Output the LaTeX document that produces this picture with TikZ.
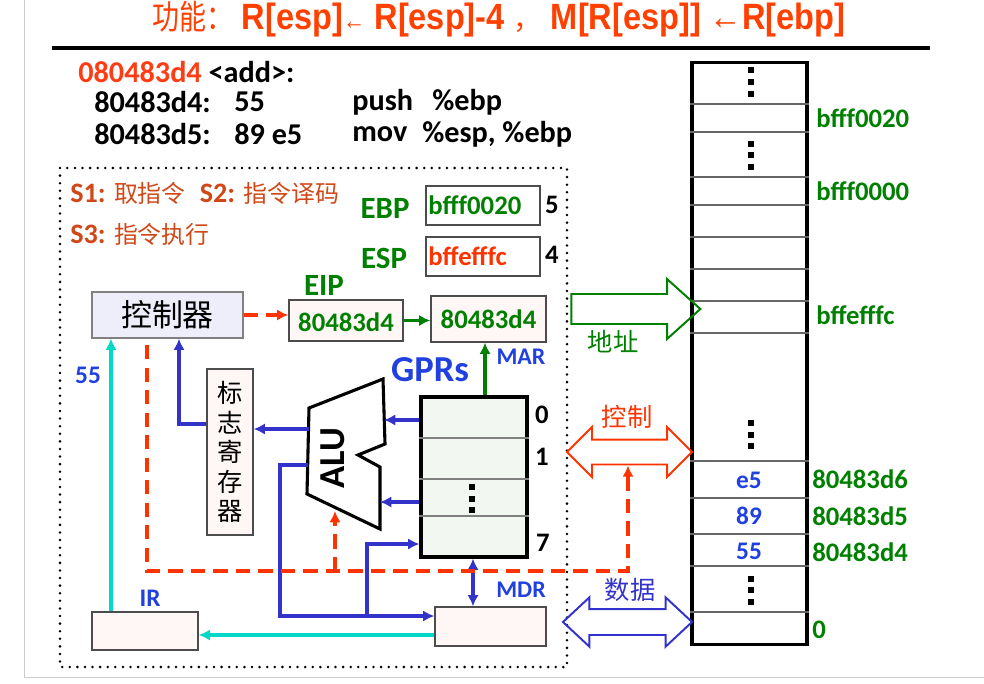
\documentclass[tikz,border=0pt]{standalone}
\usepackage{fontspec}
\setmainfont{Carlito}
\newfontfamily\cjk{Noto Sans CJK SC}
\newfontfamily\cjknarrow[FakeStretch=0.8]{Noto Sans CJK SC}
\newfontfamily\narrow[FakeStretch=0.89]{Liberation Sans}
\usetikzlibrary{arrows.meta,shapes.arrows,positioning}

\definecolor{titlered}{RGB}{255,64,0}
\definecolor{steptxt}{RGB}{208,72,24}
\definecolor{addrred}{RGB}{255,60,20}
\definecolor{dkgreen}{RGB}{0,128,0}
\definecolor{txtblue}{RGB}{32,64,224}
\definecolor{lineblue}{RGB}{51,51,204}
\definecolor{busred}{RGB}{255,51,0}
\definecolor{cyanline}{RGB}{0,216,200}
\definecolor{boxpink}{RGB}{255,246,246}
\definecolor{ctrlfill}{RGB}{238,238,250}
\definecolor{gprfill}{RGB}{242,247,242}

\newcommand{\fs}[1]{\fontsize{#1}{#1}\selectfont}

\begin{document}
\begin{tikzpicture}[x=0.025cm,y=-0.025cm,
    every node/.style={inner sep=0pt, font=\bfseries\fs{19}},
    box/.style={draw=gray!60!black, line width=0.9pt, fill=boxpink},
    bl/.style={draw=lineblue, line width=2.6pt},
    cy/.style={draw=cyanline, line width=2.6pt},
    gr/.style={draw=dkgreen, line width=2.6pt},
    rd/.style={draw=busred, line width=2.6pt, dash pattern=on 10pt off 6pt},
    code/.style={anchor=west, font=\bfseries\fs{21.5}},
    cn/.style={font=\cjk\fs{18}},
    >={Latex[length=8pt,width=8pt]}]
    \useasboundingbox (0,0) rectangle (984,683);
    % 页面边框
    \draw[gray!40, line width=0.6pt] (24,0) -- (24,677) -- (984,677);
    \draw[line width=2.2pt] (52,48) -- (930,48);

    % 标题
    \node[titlered, anchor=west] (title) at (152,19)
        {{\cjknarrow\mdseries\fs{24}功能：}\hspace{6pt}\narrow\fs{26}R[esp]{\fs{18}←} R[esp]-4 {\cjk\mdseries\fs{20}，}  M[R[esp]] ←R[ebp]};

    % 程序
    \node[code] (fn) at (78,72) {\textcolor{addrred}{080483d4} <add>:};
    \node[code] (a1) at (94,102) {80483d4:};
    \node[code] (b1) at (234,102) {55};
    \node[code] (c1) at (352,102) {push};
    \node[code] (d1) at (432,102) {\%ebp};
    \node[code] (a2) at (94,134) {80483d5:};
    \node[code] (b2) at (234,134) {89 e5};
    \node[code] (c2) at (352,134) {mov};
    \node[code] (d2) at (422,134) {\%esp, \%ebp};

    % CPU
    \draw[line width=2pt, line cap=round, dash pattern=on 0pt off 5.4pt] (60,168) rectangle (567,667);
    \node[anchor=west, steptxt, font=\bfseries\fs{20}] (s1) at (70,193)
        {S1: {\cjk\mdseries\fs{17}取指令}\hspace{10pt}S2: {\cjk\mdseries\fs{17}指令译码}};
    \node[anchor=west, steptxt, font=\bfseries\fs{20}] (s3) at (70,234)
        {S3: {\cjk\mdseries\fs{17}指令执行}};

    \node[box, fill=white, minimum width=2.85cm, minimum height=0.975cm] (ebp) at (483,205.5) {};
    \node[dkgreen, anchor=west] at (ebp.west) [xshift=2pt] {bfff0020};
    \node[box, fill=white, minimum width=2.85cm, minimum height=0.975cm] (esp) at (483,256.5) {};
    \node[busred, anchor=west] at (esp.west) [xshift=2pt] {bffefffc};
    \node[dkgreen, font=\bfseries\fs{22}] (ebpl) at (385,208) {EBP};
    \node[dkgreen, font=\bfseries\fs{22}] (espl) at (384,258) {ESP};
    \node (n5) at (552,205) {5};
    \node (n4) at (552,255) {4};

    \node[box, draw=gray, fill=ctrlfill, minimum width=3.775cm, minimum height=1.15cm,
          font=\cjk\fs{22}] (ctrl) at (167.5,315) {控制器};
    \node[dkgreen, font=\bfseries\fs{22}] (eipl) at (324,285) {EIP};
    \node[box, minimum width=2.85cm, minimum height=1.025cm] (eip) at (346,320.5) {};
    \node[dkgreen] at (eip) [yshift=-1pt] {80483d4};
    \node[box, minimum width=2.875cm, minimum height=1.15cm] (mar) at (488.5,319) {};
    \node[dkgreen] at (mar) {80483d4};
    \node[txtblue, font=\bfseries\fs{17}] (marl) at (521,357) {MAR};

    % 通用寄存器
    \node[txtblue, font=\bfseries\fs{26}] (gprl) at (430,370) {GPRs};
    \node[draw, line width=2.2pt, fill=gprfill, minimum width=2.65cm, minimum height=4cm] (gpr) at (474,477) {};
    \foreach \y in {438,479,516}
        \draw[gray, line width=1pt] (gpr.west |- 0,\y) -- (gpr.east |- 0,\y);
    \node (r0) at (542,415) {0};
    \node (r1) at (542,457) {1};
    \node (r7) at (543,543) {7};

    % ALU
    \draw[line width=2.2pt, fill=white] (309,408) -- (383,379) -- (385,444) -- (358,455)
        -- (380,467) -- (380,529) -- (307,494) -- cycle;
    \node[rotate=90, font=\bfseries\fs{26}] (alu) at (333,458) {ALU};
    \coordinate (aluin1) at (384,420);
    \coordinate (aluin2) at (380,502);
    \coordinate (aluout1) at (309,429);
    \coordinate (aluout2) at (308,465);
    \coordinate (aluctl) at (335,511);

    \node[box, minimum width=1.15cm, minimum height=4.15cm, align=center,
          font=\cjk\fs{18}, text width=1.15cm] (flag) at (230,452)
        {标\\[3pt]志\\[3pt]寄\\[3pt]存\\[3pt]器};

    \node[box, minimum width=2.65cm, minimum height=0.95cm] (ir) at (145,631) {};
    \node[txtblue, font=\bfseries\fs{18}] (irl) at (150,598) {IR};
    \node[box, minimum width=2.775cm, minimum height=0.975cm] (mdr) at (490.5,626.5) {};
    \node[txtblue, font=\bfseries\fs{17}] (mdrl) at (521,590) {MDR};
    \node[txtblue, font=\bfseries\fs{18}] (v55) at (88,375) {55};

    % 连线
    \draw[rd,->] (ctrl.east) -- (eip.west |- ctrl.east);
    \draw[gr,->] (eip.east) -- (mar.west |- eip.east);
    \draw[gr,->] (gpr.north -| 485,0) -- (mar.south -| 485,0);
    \draw[bl,->] (gpr.west |- aluin1) -- (aluin1);
    \draw[bl,->] (gpr.west |- aluin2) -- (aluin2);
    \draw[bl,->] (aluout1) -- (flag.east |- aluout1);
    \draw[bl,->] (flag.west |- 0,424) -| (ctrl.south -| 179,0);
    \draw[bl,->] (aluout2) -- (280,465) |- (mdr.west |- 0,616);
    \draw[bl,->] (367,616) |- (gpr.west |- 0,544);
    \draw[bl,<->] (gpr.south -| 473,0) -- (mdr.north -| 473,0);
    \draw[cy,->] (ir.north -| 111,0) -- (ctrl.south -| 111,0);
    \draw[cy,->] (mdr.west |- 0,635) -- (ir.east |- 0,635);

    % 存储器
    \node[draw, line width=2.2pt, minimum width=2.875cm, minimum height=14.525cm] (mem) at (749.5,353.5) {};
    \foreach \y in {104,132,177,205,237,269,301,333,461,498,534,566,612}
        \draw[gray!80!black, line width=1pt] (mem.west |- 0,\y) -- (mem.east |- 0,\y);
    \foreach \x/\y in {751/82, 751/155, 751/434.5, 751/590, 472/498.5}
        \foreach \d in {-11.5,0,11.5}
            \fill (\x-3,\y+\d-3) rectangle (\x+3,\y+\d+3);
    \node[txtblue, font=\bfseries\fs{18}] (m6) at (749,480) {e5};
    \node[txtblue, font=\bfseries\fs{18}] (m5) at (749,516) {89};
    \node[txtblue, font=\bfseries\fs{18}] (m4) at (749,551) {55};
    \node[dkgreen, anchor=west] (a20) at (816,118) {bfff0020};
    \node[dkgreen, anchor=west] (a00) at (816,191) {bfff0000};
    \node[dkgreen, anchor=west] (afc) at (816,315) {bffefffc};
    \node[dkgreen, anchor=west] (ad6) at (812,479) {80483d6};
    \node[dkgreen, anchor=west] (ad5) at (812,516) {80483d5};
    \node[dkgreen, anchor=west] (ad4) at (812,552) {80483d4};
    \node[dkgreen, anchor=west] (a0) at (812,630) {0};

    % 总线
    \node[single arrow, draw=dkgreen, line width=1.4pt, inner ysep=0.35cm,
          single arrow head extend=0.375cm, single arrow tip angle=84,
          minimum height=3.225cm] (addr) at (627.5,309) {};
    \node[double arrow, draw=busred, line width=1.4pt, inner ysep=0.2875cm,
          double arrow head extend=0.3125cm, double arrow tip angle=90,
          minimum height=3.125cm] (cbus) at (629.5,452) {};
    \node[double arrow, draw=lineblue, line width=1.4pt, inner ysep=0.3cm,
          double arrow head extend=0.29cm, double arrow tip angle=86,
          minimum height=3.225cm] (dbus) at (627.5,622) {};
    \node[cn, dkgreen] (addrl) at (613,342) {地址};
    \node[cn, busred] (cbusl) at (627,417) {控制};
    \node[cn, lineblue] (dbusl) at (630,590) {数据};

    % 控制信号
    \draw[rd,->] (147,345) |- (628,571) -- (cbus.south -| 628,0);
    \draw[rd,->] (335,571) -- (aluctl);
\end{tikzpicture}
\end{document}
